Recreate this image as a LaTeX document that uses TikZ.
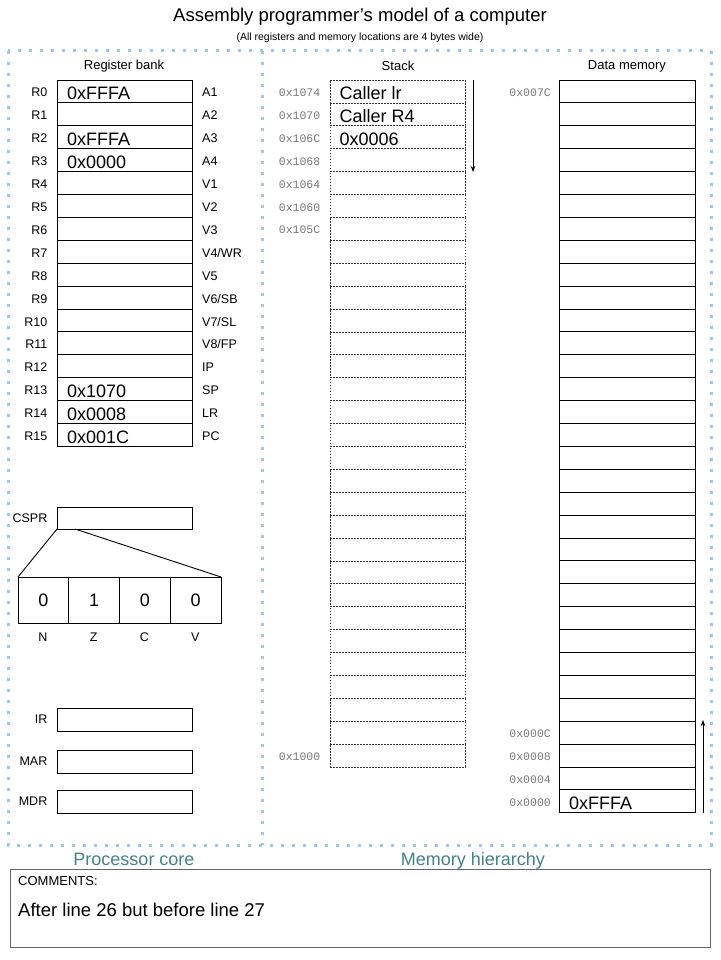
\documentclass[tikz,border=0pt]{standalone}
\usepackage{fontspec}
\setmainfont{Liberation Sans}
\newfontfamily\monof{Liberation Mono}
\usetikzlibrary{arrows.meta}
\definecolor{dotblue}{RGB}{159,197,232}
\definecolor{tealtxt}{RGB}{69,129,142}
\definecolor{addrgray}{RGB}{120,120,120}
\tikzset{
  cell/.style={draw, line width=0.9pt, minimum width=135pt, minimum height=22.9pt, inner sep=0pt, outer sep=0pt, anchor=north west},
  scell/.style={draw=black!80, dash pattern=on 1.6pt off 1.4pt, line width=0.7pt, minimum width=135pt, minimum height=22.9pt, inner sep=0pt, outer sep=0pt, anchor=north west},
  dcell/.style={cell, minimum width=136pt},
  fcell/.style={draw, line width=0.9pt, minimum width=50.75pt, minimum height=46pt, inner sep=0pt, outer sep=0pt, anchor=north west, font=\fontsize{18}{20}\selectfont},
  lab/.style={inner sep=0pt, font=\fontsize{12.5}{14}\selectfont},
  ttl/.style={inner sep=0pt, font=\fontsize{13}{15}\selectfont},
  val/.style={inner sep=0pt, anchor=base west, font=\fontsize{18}{20}\selectfont},
  addr/.style={inner sep=0pt, anchor=base east, text=addrgray, font=\monof\fontsize{11.5}{13}\selectfont},
  dotb/.style={draw=dotblue, line width=3pt, dash pattern=on 3pt off 8pt},
  sect/.style={inner sep=0pt, anchor=base, text=tealtxt, font=\fontsize{18}{20}\selectfont},
  arr/.style={line width=0.9pt, -{Stealth[length=6pt,width=4.5pt]}}
}
\begin{document}
\begin{tikzpicture}[x=1pt,y=-1pt]
\useasboundingbox (0,0) rectangle (720,960);
\fill[white] (0,0) rectangle (720,960);

% titles
\node[inner sep=0pt, font=\fontsize{18.5}{20}\selectfont] (title) at (360,17) {Assembly programmer’s model of a computer};
\node[inner sep=0pt, font=\fontsize{10.5}{12}\selectfont] (subtitle) at (360,38) {(All registers and memory locations are 4 bytes wide)};

% dotted frames
\draw[dotb] (8,51) rectangle (711,845);
\draw[dotb] (262,51) -- (262,845);

% register bank
\node[ttl] (rbt) at (124,66) {Register bank};
\foreach \i/\l/\r in {0/R0/A1,1/R1/A2,2/R2/A3,3/R3/A4,4/R4/V1,5/R5/V2,6/R6/V3,7/R7/V4\slash WR,8/R8/V5,9/R9/V6\slash SB,10/R10/V7\slash SL,11/R11/V8\slash FP,12/R12/IP,13/R13/SP,14/R14/LR,15/R15/PC}{
  \node[cell] (reg\i) at (57,{80+\i*22.9}) {};
  \node[lab, anchor=base east] (rl\i) at (47.5,{97+\i*22.9}) {\l};
  \node[lab, anchor=base west] (ra\i) at (202,{97+\i*22.9}) {\r};
}
\foreach \i/\v in {0/0xFFFA,2/0xFFFA,3/0x0000,13/0x1070,14/0x0008,15/0x001C}{
  \node[val] (rv\i) at (67,{99.5+\i*22.9}) {\v};
}

% CSPR
\node[cell, minimum height=22pt] (cspr) at (57,507) {};
\node[lab, anchor=east] (csprl) at (47.5,518) {CSPR};
\foreach \i/\v/\f in {0/0/N,1/1/Z,2/0/C,3/0/V}{
  \node[fcell] (f\i) at ({18+\i*50.75},577) {\v};
  \node[lab] (fl\i) at ({43+\i*50.75},637) {\f};
}
\coordinate (cs1) at ([xshift=18pt]cspr.south west);
\draw[line width=0.9pt] (cspr.south west) -- (f0.north west);
\draw[line width=0.9pt] (cs1) -- (f3.north east);

% IR MAR MDR
\foreach \n/\t/\y in {ir/IR/708,mar/MAR/750,mdr/MDR/790}{
  \node[cell, minimum height=23pt] (\n) at (57,\y) {};
  \node[lab, anchor=east] (\n l) at (47.5,{\y+11.5}) {\t};
}

% stack
\node[ttl] (stt) at (398,66) {Stack};
\foreach \i in {0,...,29}{
  \node[scell] (s\i) at (330,{80+\i*22.9}) {};
}
\foreach \i/\a in {0/0x1074,1/0x1070,2/0x106C,3/0x1068,4/0x1064,5/0x1060,6/0x105C,29/0x1000}{
  \node[addr] (sa\i) at (320.5,{96.5+\i*22.9}) {\a};
}
\foreach \i/\v in {0/Caller lr,1/Caller R4,2/0x0006}{
  \node[val] (sv\i) at (339.5,{99.5+\i*22.9}) {\v};
}
\coordinate (sarr1) at (473,80);
\coordinate (sarr2) at (473,172);
\draw[arr] (sarr1) -- (sarr2);

% data memory
\node[ttl] (dmt) at (627,66) {Data memory};
\foreach \i in {0,...,31}{
  \node[dcell] (d\i) at (559,{80+\i*22.9}) {};
}
\foreach \i/\a in {0/0x007C,28/0x000C,29/0x0008,30/0x0004,31/0x0000}{
  \node[addr] (da\i) at (551,{96.5+\i*22.9}) {\a};
}
\node[val] (dv31) at (569,{99.5+31*22.9}) {0xFFFA};
\coordinate (darr1) at (703,813);
\coordinate (darr2) at (703,720);
\draw[arr] (darr1) -- (darr2);

% section labels
\node[sect] (pc) at (134,865) {Processor core};
\node[sect] (mh) at (473,865) {Memory hierarchy};

% comments
\node[draw=black!60, line width=1pt, minimum width=700pt, minimum height=78pt, anchor=north west, inner sep=0pt] (cbox) at (10,869) {};
\node[inner sep=0pt, anchor=west, font=\fontsize{13}{15}\selectfont] (ctitle) at (18,881) {COMMENTS:};
\node[inner sep=0pt, anchor=west, font=\fontsize{18.5}{20}\selectfont] (ctext) at (18,910) {After line 26 but before line 27};
\end{tikzpicture}
\end{document}
